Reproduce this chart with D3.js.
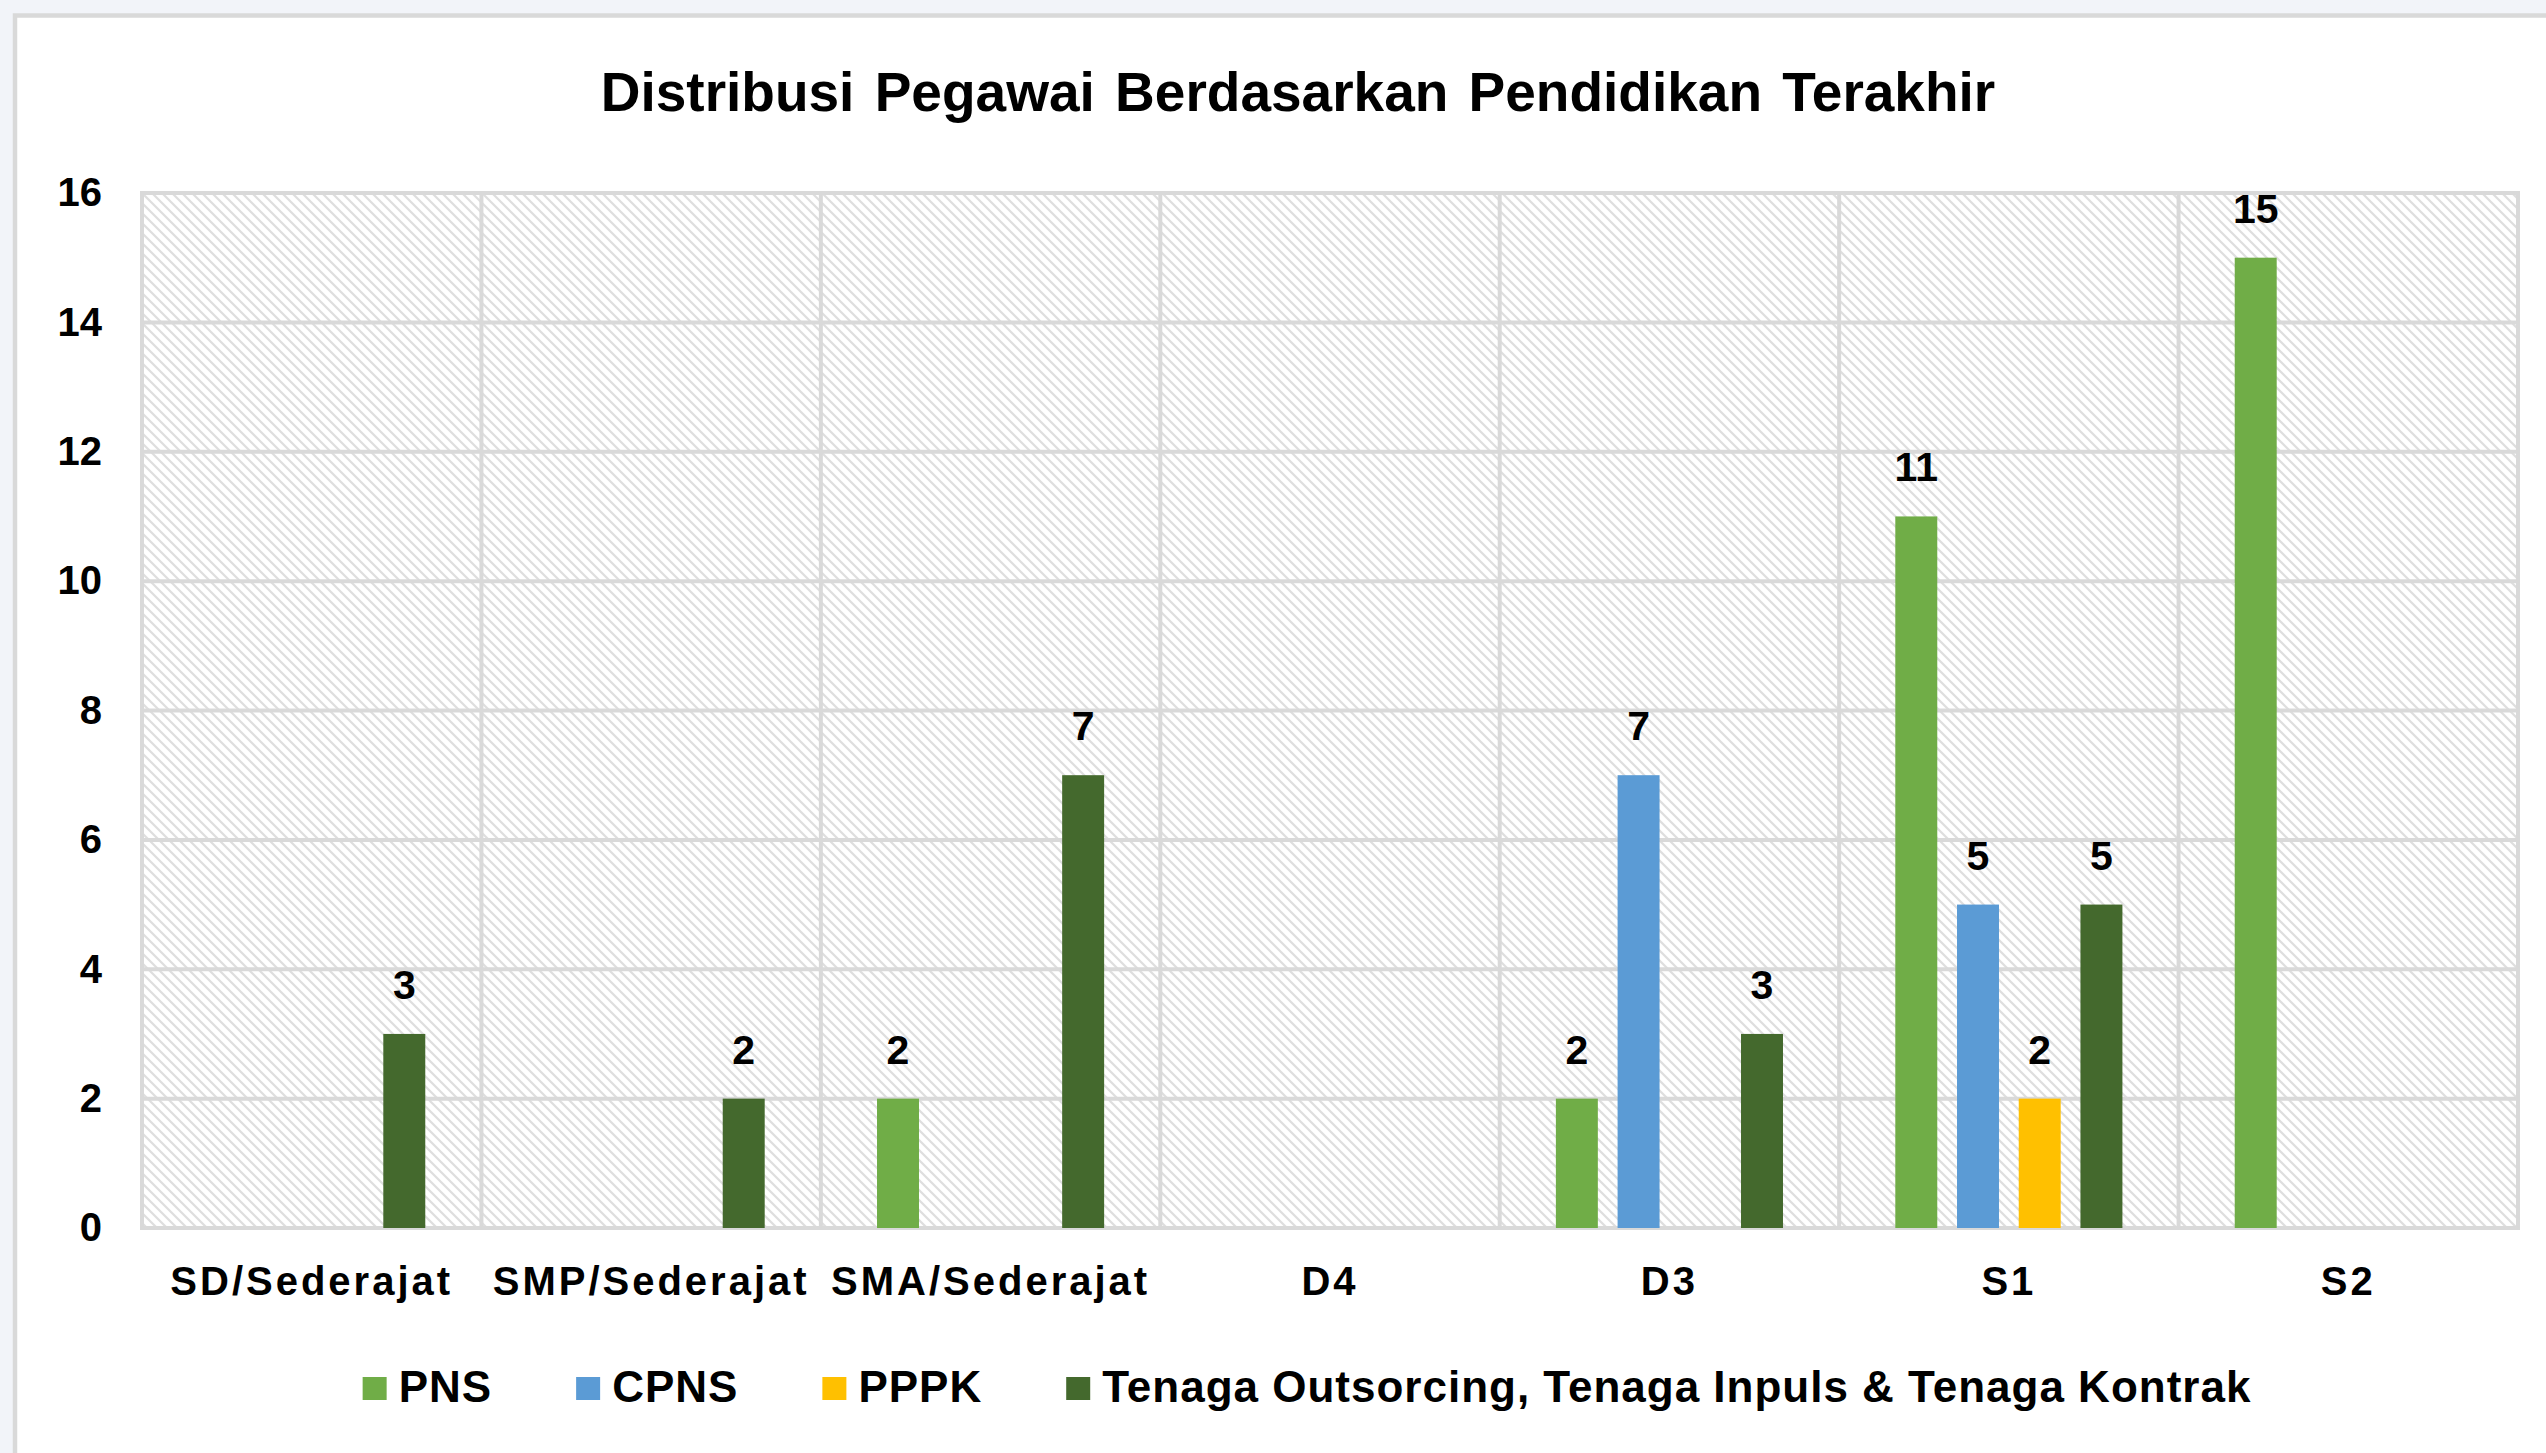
<!DOCTYPE html>
<html>
<head>
<meta charset="utf-8">
<script src="https://cdn.jsdelivr.net/npm/d3@7"></script>
<style>
  html, body { margin: 0; padding: 0; background: #f2f4f9; }
  svg { display: block; }
  text { font-family: "Liberation Sans", Arial, sans-serif; font-weight: bold; fill: #000; }
</style>
</head>
<body>
<div id="chart"></div>
<script>
// categories and series
var categories = ["SD/Sederajat", "SMP/Sederajat", "SMA/Sederajat", "D4", "D3", "S1", "S2"];
var seriesNames = ["PNS", "CPNS", "PPPK", "Tenaga Outsorcing, Tenaga Inpuls & Tenaga Kontrak"];
var seriesColors = ["#70ad47", "#5b9bd5", "#ffc000", "#44692d"];

var pns     = [0, 0, 2, 0, 2, 11, 15];
var cpns    = [0, 0, 0, 0, 7, 5, 0];
var pppk    = [0, 0, 0, 0, 0, 2, 0];
var tenaga  = [3, 2, 7, 0, 3, 5, 0];

var yTicks = [0, 2, 4, 6, 8, 10, 12, 14, 16];

var title = "Distribusi Pegawai Berdasarkan Pendidikan Terakhir";

function init() {
  var values = [pns, cpns, pppk, tenaga];
  var data = [];
  categories.forEach(function (c, i) {
    seriesNames.forEach(function (s, j) {
      data.push({ cat: c, series: s, color: seriesColors[j], value: values[j][i] });
    });
  });

  var W = 2546, H = 1453;
  var margins = { top: 193, right: 28, bottom: 225, left: 142 };
  var width = W - margins.left - margins.right;
  var height = H - margins.top - margins.bottom;

  var root = d3.select("#chart").append("svg")
    .attr("width", W)
    .attr("height", H);

  // hatch pattern for the plot area (light downward diagonal)
  var defs = root.append("defs");
  var pat = defs.append("pattern")
    .attr("id", "hatch")
    .attr("patternUnits", "userSpaceOnUse")
    .attr("width", 10).attr("height", 10);
  pat.append("rect").attr("width", 10).attr("height", 10).attr("fill", "#fff");
  pat.append("path")
    .attr("d", "M-1,-1 L11,11 M-1,9 L1,11 M9,-1 L11,1")
    .attr("stroke", "#dedede")
    .attr("stroke-width", 2.2);

  // white panel with grey border
  root.append("rect")
    .attr("x", 15).attr("y", 15.5)
    .attr("width", W + 20).attr("height", H + 20)
    .attr("fill", "#fff")
    .attr("stroke", "#d9d9d9")
    .attr("stroke-width", 4.5);

  root.append("text")
    .attr("x", 1298).attr("y", 111)
    .attr("text-anchor", "middle")
    .style("font-size", "55px")
    .style("word-spacing", "5px")
    .text(title);

  var svg = root.append("g")
    .attr("transform", "translate(" + margins.left + "," + margins.top + ")");

  var x0 = d3.scaleBand().domain(categories).range([0, width]).padding(0);
  var x1 = d3.scaleBand().domain(seriesNames).range([0, x0.bandwidth()])
    .paddingInner(0.32).paddingOuter(0.91);
  var y = d3.scaleLinear().domain([0, 16]).range([height, 0]);

  svg.append("rect")
    .attr("width", width).attr("height", height)
    .attr("fill", "url(#hatch)");

  // grid lines
  svg.append("g").selectAll("line.h")
    .data(yTicks.slice(1, -1))
    .join("line")
    .attr("x1", 0).attr("x2", width)
    .attr("y1", function (d) { return y(d); })
    .attr("y2", function (d) { return y(d); })
    .attr("stroke", "#d9d9d9").attr("stroke-width", 4);

  svg.append("g").selectAll("line.v")
    .data(categories.slice(1))
    .join("line")
    .attr("x1", function (d) { return x0(d); })
    .attr("x2", function (d) { return x0(d); })
    .attr("y1", 0).attr("y2", height)
    .attr("stroke", "#d9d9d9").attr("stroke-width", 4);

  svg.append("rect")
    .attr("width", width).attr("height", height)
    .attr("fill", "none")
    .attr("stroke", "#d9d9d9").attr("stroke-width", 4);

  // y axis labels
  var yAxis = svg.append("g")
    .call(d3.axisLeft(y).tickValues(yTicks).tickSize(0).tickPadding(40));
  yAxis.select(".domain").remove();
  yAxis.selectAll("text")
    .style("font-size", "40px")
    .style("font-family", "'Liberation Sans', Arial, sans-serif")
    .attr("fill", "#000");

  // x axis labels
  var xAxis = svg.append("g")
    .attr("transform", "translate(0," + height + ")")
    .call(d3.axisBottom(x0).tickSize(0).tickPadding(39));
  xAxis.select(".domain").remove();
  xAxis.selectAll("text")
    .style("font-size", "40px")
    .style("letter-spacing", "3px")
    .style("font-family", "'Liberation Sans', Arial, sans-serif")
    .attr("fill", "#000");

  // bars
  var bars = data.filter(function (d) { return d.value > 0; });
  svg.append("g").selectAll("rect")
    .data(bars)
    .join("rect")
    .attr("x", function (d) { return x0(d.cat) + x1(d.series); })
    .attr("y", function (d) { return y(d.value); })
    .attr("width", x1.bandwidth())
    .attr("height", function (d) { return height - y(d.value); })
    .attr("fill", function (d) { return d.color; });

  svg.append("g").selectAll("text")
    .data(bars)
    .join("text")
    .attr("x", function (d) { return x0(d.cat) + x1(d.series) + x1.bandwidth() / 2; })
    .attr("y", function (d) { return y(d.value) - 35; })
    .attr("text-anchor", "middle")
    .style("font-size", "41px")
    .text(function (d) { return d.value; });

  // legend
  var legend = root.append("g").attr("transform", "translate(0,1402)");
  var items = legend.selectAll("g")
    .data(seriesNames)
    .join("g");
  items.append("rect")
    .attr("y", -25).attr("width", 24).attr("height", 23)
    .attr("fill", function (d, i) { return seriesColors[i]; });
  items.append("text")
    .attr("x", 36)
    .style("font-size", "44px")
    .style("letter-spacing", "1px")
    .text(function (d) { return d; });

  var xpos = 0, offsets = [];
  items.each(function () {
    offsets.push(xpos);
    var tw = d3.select(this).select("text").node().getComputedTextLength();
    xpos += 36 + tw + 84;
  });
  var total = xpos - 84;
  var start = 1307 - total / 2;
  items.attr("transform", function (d, i) { return "translate(" + (start + offsets[i]) + ",0)"; });
}

init();
</script>
</body>
</html>
